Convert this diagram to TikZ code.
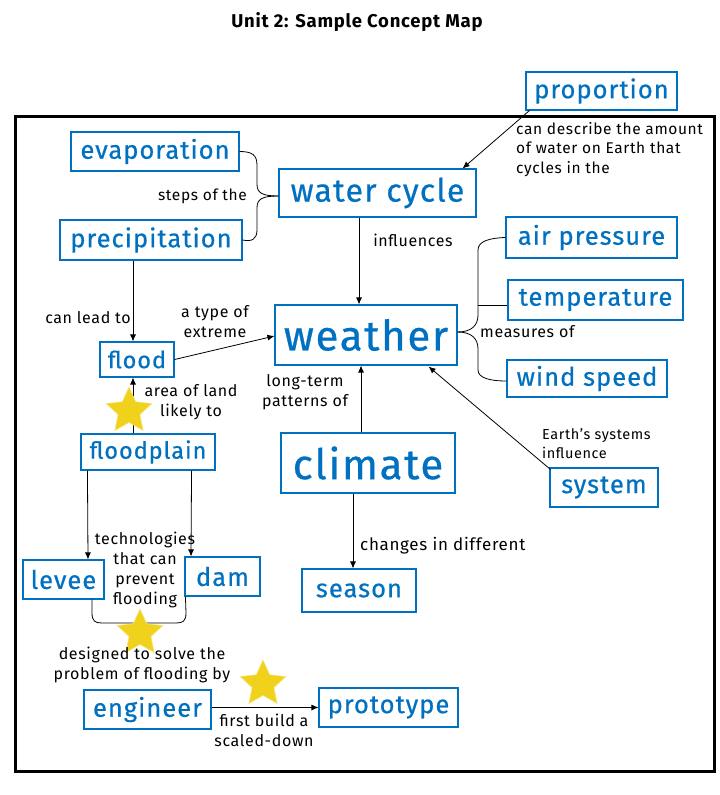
\documentclass[tikz,border=0pt]{standalone}
\usepackage{fontspec}
\setmainfont{Fira Sans}[LetterSpace=4]
\newfontfamily\cfont{Fira Sans}[LetterSpace=4,FakeBold=0.6]
\usetikzlibrary{arrows.meta,shapes.geometric,calc}
\definecolor{cblue}{HTML}{0070C0}
\definecolor{cstar}{HTML}{F0D21C}
\begin{document}
\begin{tikzpicture}[x=1pt,y=-1pt,
 concept/.style={draw=cblue,text=cblue,line width=1.1pt,inner sep=0pt,rectangle},
 mid/.style={font=\cfont\fontsize{25.5}{29}\selectfont},
 big/.style={font=\cfont\fontsize{42}{46}\selectfont},
 lbl/.style={text=black,inner sep=0pt,align=center,font=\fontsize{16}{20}\selectfont},
 arr/.style={-{Latex[length=7pt,width=6pt]},line width=0.8pt},
 conn/.style={line width=0.8pt},
 starry/.style={star,star points=5,star point ratio=2.1,fill=cstar,draw=cstar!60!white,line width=0.6pt,minimum size=48pt,inner sep=0pt}]
\useasboundingbox (0,0) rectangle (720,795);
% title
\node[font=\fontsize{18.5}{22}\selectfont\bfseries] (title) at (357,22) {Unit 2: Sample Concept Map};
% frame
\draw[line width=3pt] (15,116) rectangle (714,771);
% concepts
\node[concept,mid,minimum width=151pt,minimum height=38pt] (prop) at (601.5,91) {proportion};
\node[concept,mid,minimum width=168pt,minimum height=39pt] (evap) at (155,151.5) {evaporation};
\node[concept,font=\cfont\fontsize{32}{36}\selectfont,minimum width=197pt,minimum height=48pt] (wc) at (377.5,193) {water cycle};
\node[concept,mid,minimum width=182pt,minimum height=40pt] (prec) at (151,240) {precipitation};
\node[concept,big,minimum width=182pt,minimum height=60pt] (weather) at (366,335) {weather};
\node[concept,mid,minimum width=171pt,minimum height=41pt] (air) at (591.5,237.5) {air pressure};
\node[concept,mid,minimum width=175pt,minimum height=40pt] (temp) at (595.5,300) {temperature};
\node[concept,mid,minimum width=160pt,minimum height=37pt] (wind) at (587,378.5) {wind speed};
\node[concept,font=\cfont\fontsize{23.5}{27}\selectfont,minimum width=74pt,minimum height=35pt] (flood) at (137,359.5) {flood};
\node[concept,font=\cfont\fontsize{23.5}{27}\selectfont,minimum width=134pt,minimum height=36pt] (fp) at (148,452) {floodplain};
\node[concept,big,minimum width=174pt,minimum height=60pt] (climate) at (368,463) {climate};
\node[concept,mid,minimum width=108pt,minimum height=39pt] (system) at (604,487.5) {system};
\node[concept,mid,minimum width=114pt,minimum height=43pt] (season) at (359,590.5) {season};
\node[concept,mid,minimum width=81pt,minimum height=39pt] (levee) at (63.5,579.5) {levee};
\node[concept,mid,minimum width=75pt,minimum height=39pt] (dam) at (222.5,576.5) {dam};
\node[concept,mid,minimum width=127pt,minimum height=39pt] (eng) at (147.5,709.5) {engineer};
\node[concept,mid,minimum width=139pt,minimum height=39pt] (proto) at (388.5,707.5) {prototype};
% connectors
\draw[arr] ($(prop.south west)+(4,0)$) -- ($(wc.north east)+(-14,0)$);
\draw[arr] ($(wc.south)+(-18.5,0)$) -- ($(weather.north)+(-7,0)$);
\draw[arr] ($(climate.north)+(-7,0)$) -- ($(weather.south)+(-5,0)$);
\draw[arr] ($(climate.south)+(-15,0)$) -- ($(season.north)+(-6,0)$);
\draw[arr] ($(system.north west)+(1,2)$) -- ($(weather.south east)+(-29,1)$);
\draw[arr] (flood.east) -- ($(weather.west)+(0,1)$);
\draw[arr] ($(prec.south)+(-18,0)$) -- ($(flood.north)+(-4,0)$);
\draw[arr] ($(fp.north)+(-15,0)$) -- ($(flood.south)+(-4,0)$);
\draw[arr] ($(fp.south west)+(7,0)$) -- ($(levee.north)+(24.5,0)$);
\draw[arr] ($(fp.south east)+(-24,0)$) -- ($(dam.north)+(-31.5,0)$);
\draw[arr] ($(eng.east)+(0,-2)$) -- (proto.west);
% braces
\coordinate (wtip) at ($(wc.west)+(0,3)$);
\draw[conn] (evap.east) .. controls (252,151.5) and (257,155) .. (257,165) -- (257,184) .. controls (257,193) and (262,196) .. (wtip);
\draw[conn] (prec.east) .. controls (252,242) and (257,239) .. (257,230) -- (257,208) .. controls (257,199) and (262,196) .. (wtip);
\coordinate (rtip) at ($(weather.east)+(0,-3)$);
\draw[conn] (rtip) .. controls (472,332) and (478,325) .. (478,315) -- (478,250) .. controls (478,241) and (490,238) .. (air.west);
\draw[conn] (478,305) -- (temp.west |- 0,305);
\draw[conn] (rtip) .. controls (472,332) and (478,339) .. (478,349) -- (478,370) .. controls (478,378) and (490,381) .. ($(wind.west)+(0,2.5)$);
\draw[conn] ($(levee.south)+(28.5,0)$) -- (92,613) .. controls (92,621) and (95,623) .. (102,623) -- (176,623) .. controls (183,623) and (186,621) .. (186,613) -- ($(dam.south west)+(1,0)$);
% stars
\node[starry] (s1) at (129,411) {};
\node[starry] (s2) at (140,633) {};
\node[starry] (s3) at (263,684) {};
% labels
\node[lbl,font=\fontsize{15.5}{19.5}\selectfont,align=left,anchor=north west] (l1) at (516,122) {can describe the amount\\of water on Earth that\\cycles in the};
\node[lbl,font=\fontsize{15.5}{19}\selectfont,anchor=east] (l2) at (247,196) {steps of the};
\node[lbl] (l3) at (413,240) {influences};
\node[lbl] (l4) at (88,318) {can lead to};
\node[lbl] (l5) at (215,322) {a type of\\extreme};
\node[lbl] (l6) at (305,392) {long-term\\patterns of};
\node[lbl,anchor=west] (l7) at (480,332) {measures of};
\node[lbl] (l8) at (191,402) {area of land\\likely to};
\node[lbl,font=\fontsize{14.5}{19}\selectfont,align=left,anchor=north west] (l9) at (542,428) {Earth’s systems\\influence};
\node[lbl,font=\fontsize{17}{20}\selectfont,anchor=west] (l10) at (360,546) {changes in different};
\node[lbl] (l11) at (145,570) {technologies\\that can\\prevent\\flooding};
\node[lbl] (l12) at (142,665) {designed to solve the\\problem of flooding by};
\node[lbl] (l13) at (264,730) {first build a\\scaled-down};
\end{tikzpicture}
\end{document}
